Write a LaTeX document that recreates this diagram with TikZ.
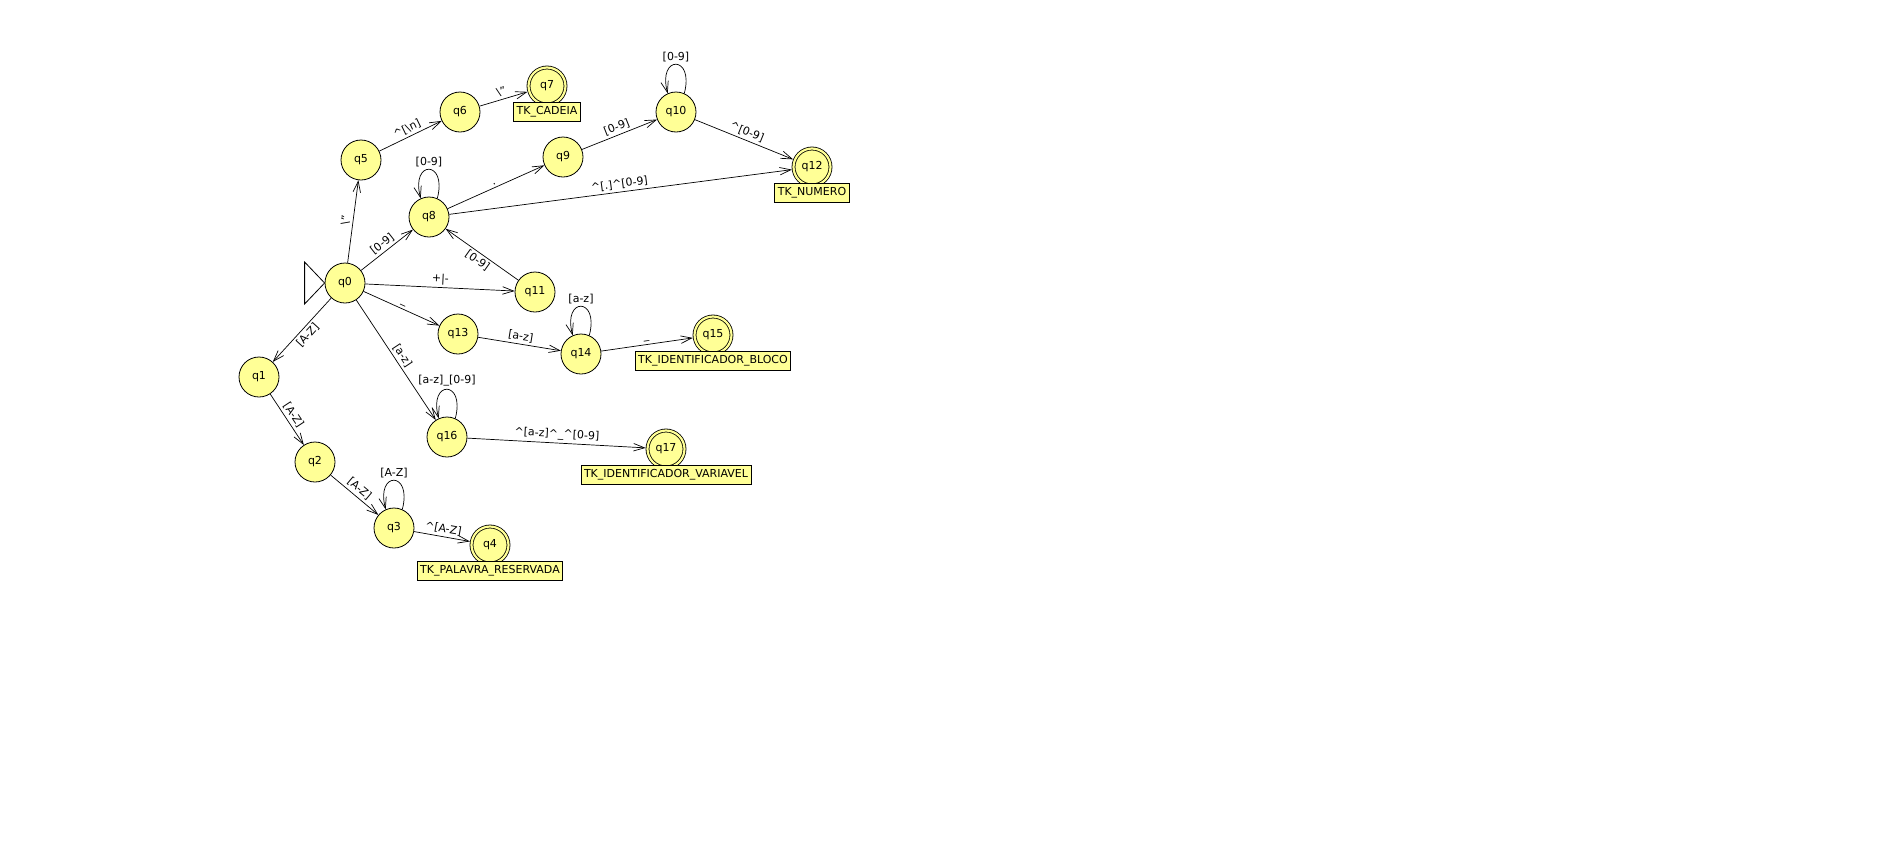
\documentclass[tikz,border=0pt]{standalone}
\usepackage{fontspec}
\setmainfont{DejaVu Sans}
\usepackage{tikz}
\usetikzlibrary{arrows.meta}
\definecolor{stateyellow}{RGB}{255,255,150}

\begin{document}
\begin{tikzpicture}[x=1pt,y=1pt,
    font=\fontsize{11}{13}\selectfont,
    state/.style={circle,draw,fill=stateyellow,line width=0.8pt,minimum size=40pt,inner sep=0pt},
    final/.style={state,minimum size=37pt,double=stateyellow,double distance=2.2pt,outer sep=1.9pt},
    tag/.style={draw,fill=stateyellow,line width=0.7pt,inner xsep=3pt,inner ysep=0pt,minimum height=19pt},
    trans/.style={-{Straight Barb[length=11pt,width=7.5pt]},line width=0.7pt},
    lbl/.style={sloped,inner sep=2.5pt}
  ]
    \useasboundingbox (0,0) rectangle (1893,-865);

    % States
    \node[state] (q0) at (345,-283) {q0};
    \node[state] (q1) at (259,-377) {q1};
    \node[state] (q2) at (315,-462) {q2};
    \node[state] (q3) at (394,-528) {q3};
    \node[final] (q4) at (490,-545) {q4};
    \node[state] (q5) at (361,-160) {q5};
    \node[state] (q6) at (460,-112) {q6};
    \node[final] (q7) at (547,-86) {q7};
    \node[state] (q8) at (429,-217) {q8};
    \node[state] (q9) at (563,-157) {q9};
    \node[state] (q10) at (676,-112) {q10};
    \node[state] (q11) at (535,-292) {q11};
    \node[final] (q12) at (812,-167) {q12};
    \node[state] (q13) at (458,-334) {q13};
    \node[state] (q14) at (581,-354) {q14};
    \node[final] (q15) at (713,-335) {q15};
    \node[state] (q16) at (447,-437) {q16};
    \node[final] (q17) at (666,-449) {q17};

    % Initial marker
    \draw[line width=0.8pt] (q0.west) -- ++(-20,21) -- ++(0,-42) -- cycle;

    % Token tags under the final states
    \node[tag] (t4) at ([yshift=-26pt]q4) {TK\_PALAVRA\_RESERVADA};
    \node[tag] (t7) at ([yshift=-26pt]q7) {TK\_CADEIA};
    \node[tag] (t12) at ([yshift=-26pt]q12) {TK\_NUMERO};
    \node[tag] (t15) at ([yshift=-26pt]q15) {TK\_IDENTIFICADOR\_BLOCO};
    \node[tag] (t17) at ([yshift=-26pt]q17) {TK\_IDENTIFICADOR\_VARIAVEL};

    % Strings
    \draw[trans] (q0) -- node[lbl,above] {\textbackslash"} (q5);
    \draw[trans] (q5) -- node[lbl,above] {\textasciicircum[\textbackslash n]} (q6);
    \draw[trans] (q6) -- node[lbl,above] {\textbackslash"} (q7);

    % Numbers
    \draw[trans] (q0) -- node[lbl,above] {[0-9]} (q8);
    \draw[trans] (q0) -- node[lbl,above] {+|-} (q11);
    \draw[trans] (q11) -- node[lbl,below] {[0-9]} (q8);
    \draw[trans] (q8) -- node[lbl,above] {.} (q9);
    \draw[trans] (q9) -- node[lbl,above] {[0-9]} (q10);
    \draw[trans] (q10) -- node[lbl,above] {\textasciicircum[0-9]} (q12);
    \draw[trans] (q8) -- node[lbl,above] {\textasciicircum[.]\textasciicircum[0-9]} (q12);

    % Block identifiers
    \draw[trans] (q0) -- node[lbl,above] {\_} (q13);
    \draw[trans] (q13) -- node[lbl,above] {[a-z]} (q14);
    \draw[trans] (q14) -- node[lbl,above] {\_} (q15);

    % Variable identifiers
    \draw[trans] (q0) -- node[lbl,above] {[a-z]} (q16);
    \draw[trans] (q16) -- node[lbl,above] {\textasciicircum[a-z]\textasciicircum\_\textasciicircum[0-9]} (q17);

    % Reserved words
    \draw[trans] (q0) -- node[lbl,below] {[A-Z]} (q1);
    \draw[trans] (q1) -- node[lbl,above] {[A-Z]} (q2);
    \draw[trans] (q2) -- node[lbl,above] {[A-Z]} (q3);
    \draw[trans] (q3) -- node[lbl,above] {\textasciicircum[A-Z]} (q4);

    % Self loops
    \draw[trans] (q8.66) .. controls +(75:40) and +(105:40) .. node[above,inner sep=2.5pt] {[0-9]} (q8.114);
    \draw[trans] (q10.66) .. controls +(75:40) and +(105:40) .. node[above,inner sep=2.5pt] {[0-9]} (q10.114);
    \draw[trans] (q14.66) .. controls +(75:40) and +(105:40) .. node[above,inner sep=2.5pt] {[a-z]} (q14.114);
    \draw[trans] (q16.66) .. controls +(75:40) and +(105:40) .. node[above,inner sep=2.5pt] {[a-z]\_[0-9]} (q16.114);
    \draw[trans] (q3.66) .. controls +(75:40) and +(105:40) .. node[above,inner sep=2.5pt] {[A-Z]} (q3.114);

\end{tikzpicture}
\end{document}
